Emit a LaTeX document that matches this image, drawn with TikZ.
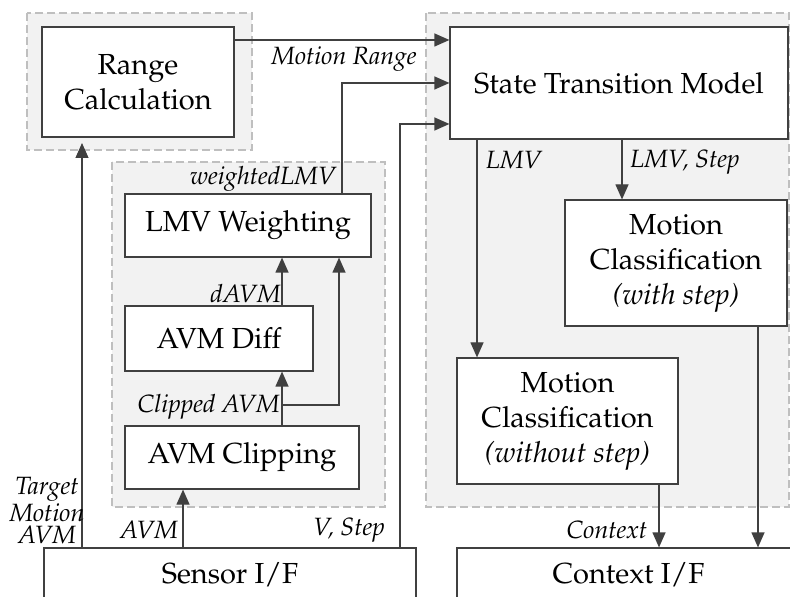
\documentclass[tikz,border=0pt]{standalone}
\usepackage[T1]{fontenc}
\usepackage{mathpazo}
\usetikzlibrary{arrows.meta,calc}
\definecolor{lnc}{HTML}{404040}
\definecolor{grpfill}{HTML}{F2F2F2}
\definecolor{grpline}{HTML}{BFBFBF}
\begin{document}
\begin{tikzpicture}[x=0.5pt,y=-0.5pt,
  box/.style={draw=lnc,line width=0.6pt,fill=white,align=center,inner sep=0pt,
    font=\fontsize{14.5}{17.5}\selectfont},
  grp/.style={draw=grpline,fill=grpfill,line width=0.6pt,dash pattern=on 4pt off 2pt},
  arr/.style={draw=lnc,line width=0.6pt,-{Triangle[length=7.5pt,width=6.5pt]}},
  lbl/.style={inner sep=0pt,font=\fontsize{12.5}{11}\selectfont\itshape,align=center}]
\useasboundingbox (0,0) rectangle (790,597);
\clip (0,0) rectangle (790,597);
\fill[white] (0,0) rectangle (790,597);
% groups
\path[grp] (27,13) rectangle (252,150);
\path[grp] (112,162) rectangle (385,507);
\path[grp] (426,13) rectangle (789,507);
% boxes
\node[box,minimum width=96pt,minimum height=55pt] (rc) at (138,82) {Range\\Calculation};
\node[box,minimum width=169pt,minimum height=56pt] (stm) at (619,83) {State Transition Model};
\node[box,minimum width=123pt,minimum height=31.5pt] (lmv) at (248,225.5) {LMV Weighting};
\node[box,minimum width=94pt,minimum height=32.5pt] (diff) at (219,338.5) {AVM Diff};
\node[box,minimum width=117pt,minimum height=31.5pt] (clip) at (242,457.5) {AVM Clipping};
\node[box,minimum width=186pt,minimum height=27pt] (sens) at (230,575) {Sensor I/F};
\node[box,minimum width=171.5pt,minimum height=27pt] (ctx) at (628.5,575) {Context I/F};
\node[box,minimum width=111pt,minimum height=63pt] (mcs) at (676,263) {Motion\\Classification\\\textit{(with step)}};
\node[box,minimum width=110.5pt,minimum height=63pt] (mcw) at (567.5,421) {Motion\\Classification\\\textit{(without step)}};
% coordinates
\coordinate (tgt) at (82,143);
\coordinate (xavm) at (183,0);
\coordinate (xc) at (282,0);
\coordinate (xc2) at (339,0);
\coordinate (br) at (282,405);
\coordinate (xw) at (342,0);
\coordinate (xv) at (400,0);
\coordinate (yv) at (0,124);
\coordinate (xl) at (477,0);
\coordinate (xls) at (622,0);
\coordinate (xcx) at (659,0);
\coordinate (xcs) at (758,0);
% connectors
\draw[arr] ([yshift=21pt]rc.east) -- ([yshift=21pt]rc.east -| stm.west);
\draw[arr] (xw |- lmv.north) |- (stm.west);
\draw[arr] (xv |- sens.north) |- (stm.west |- yv);
\draw[arr] (tgt |- sens.north) -- (tgt);
\draw[arr] (xavm |- sens.north) -- (xavm |- clip.south);
\draw[arr] (xc |- clip.north) -- (xc |- diff.south);
\draw[arr] (xc |- diff.north) -- (xc |- lmv.south);
\draw[arr] (br) -| (xc2 |- lmv.south);
\draw[arr] (xl |- stm.south) -- (xl |- mcw.north);
\draw[arr] (xls |- stm.south) -- (xls |- mcs.north);
\draw[arr] (xcx |- mcw.south) -- (xcx |- ctx.north);
\draw[arr] (xcs |- mcs.south) -- (xcs |- ctx.north);
% labels
\node[lbl] (lmr) at (344,59) {Motion Range};
\node[lbl] (lwl) at (263,179) {weightedLMV};
\node[lbl,anchor=east] (lda) at (281,294) {dAVM};
\node[lbl,anchor=east] (lca) at (280,407) {Clipped AVM};
\node[lbl] (lavm) at (149,530) {AVM};
\node[lbl] (ltm) at (47,510) {Target\\Motion\\AVM};
\node[lbl] (lvs) at (349,530) {V, Step};
\node[lbl] (llmv) at (514,160) {LMV};
\node[lbl] (lls) at (685,162) {LMV, Step};
\node[lbl] (lctx) at (607,530) {Context};
\end{tikzpicture}
\end{document}
